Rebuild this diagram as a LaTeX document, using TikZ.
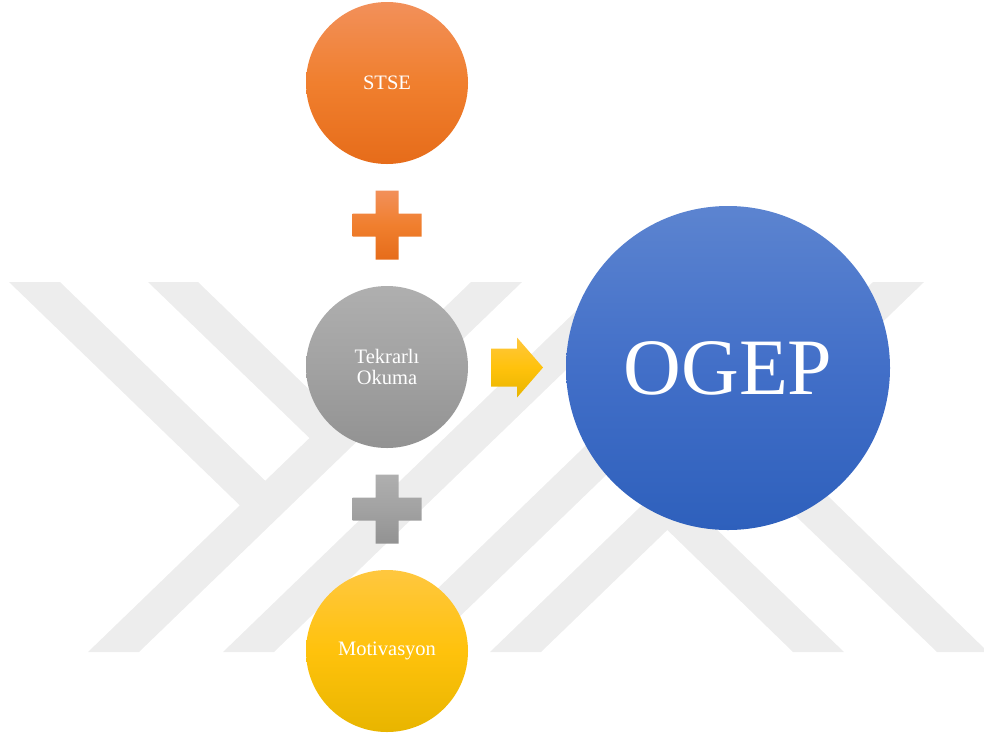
\documentclass[tikz,border=0pt]{standalone}
\usepackage{fontspec}
\setmainfont{Liberation Serif}
\usetikzlibrary{calc}

% palette
\definecolor{wmgray}{RGB}{237,237,237}
\definecolor{orTop}{HTML}{F2905A}
\definecolor{orMid}{HTML}{F07F2E}
\definecolor{orBot}{HTML}{E66C1A}
\definecolor{grTop}{HTML}{AFAFAF}
\definecolor{grMid}{HTML}{A2A2A2}
\definecolor{grBot}{HTML}{929292}
\definecolor{ylTop}{HTML}{FFC73F}
\definecolor{ylMid}{HTML}{FFC20C}
\definecolor{ylBot}{HTML}{E8B500}
\definecolor{blTop}{HTML}{5C84D0}
\definecolor{blMid}{HTML}{426FC8}
\definecolor{blBot}{HTML}{2E60BC}

\begin{document}
\begin{tikzpicture}[x=1pt,y=-1pt,
  bubble/.style={circle, inner sep=0pt, minimum size=162pt, text=white,
    align=center, font=\fontsize{20.5}{21.5}\selectfont},
  bigbubble/.style={bubble, minimum size=324pt, font=\fontsize{80}{80}\selectfont},
  orangefill/.style={top color=orTop, bottom color=orBot, middle color=orMid},
  grayfill/.style={top color=grTop, bottom color=grBot, middle color=grMid},
  yellowfill/.style={top color=ylTop, bottom color=ylBot, middle color=ylMid},
  bluefill/.style={top color=blTop, bottom color=blBot, middle color=blMid},
  wmband/.style={fill=wmgray},
  plus sign/.pic={
    \path[pic actions] (-11.5,-34.5) -- (11.5,-34.5) -- (11.5,-11.5) -- (34.5,-11.5)
      -- (34.5,11.5) -- (11.5,11.5) -- (11.5,34.5) -- (-11.5,34.5) -- (-11.5,11.5)
      -- (-34.5,11.5) -- (-34.5,-11.5) -- (-11.5,-11.5) -- cycle;
  }
]
\useasboundingbox (0,0) rectangle (984,740);

% faint diagonal background emblem
\fill[wmband] (9,282) -- (60,282) -- (280,495) -- (255,520) -- cycle;
\fill[wmband] (148,282) -- (198,282) -- (350,429) -- (325,453) -- cycle;
\fill[wmband] (471,282) -- (522,282) -- (139,652) -- (88,652) -- cycle;
\fill[wmband] (606,282) -- (657,282) -- (274,652) -- (223,652) -- cycle;
\fill[wmband] (755,282) -- (806,282) -- (423,652) -- (372,652) -- cycle;
\fill[wmband] (873,282) -- (924,282) -- (541,652) -- (490,652) -- cycle;
\fill[wmband] (793,652) -- (844,652) -- (680,494) -- (655,518) -- cycle;
\fill[wmband] (937,652) -- (988,652) -- (750,420) -- (722,445) -- cycle;

% the three inputs
\node[bubble, orangefill] (stse)   at (387,83)  {STSE};
\node[bubble, grayfill]   (tekrar) at (387,367) {Tekrarlı\\Okuma};
\node[bubble, yellowfill] (motiv)  at (387,651) {Motivasyon};

% plus signs between the inputs
\pic[orangefill] at ($(stse.south)!0.5!(tekrar.north)$) {plus sign};
\pic[grayfill]   at ($(tekrar.south)!0.5!(motiv.north)$) {plus sign};

% the outcome
\node[bigbubble, bluefill] (ogep) at (728,368) {OGEP};

% block arrow leading to the outcome
\coordinate (arrowmid) at ($(tekrar.east)!0.5!(ogep.west)$);
\path[top color=ylTop, bottom color=ylBot, middle color=ylMid]
  ($(arrowmid)+(-26,-19)$) -- ++(26,0) -- ++(0,-11) -- ++(26,30)
  -- ++(-26,30) -- ++(0,-11) -- ++(-26,0) -- cycle;
\end{tikzpicture}
\end{document}
